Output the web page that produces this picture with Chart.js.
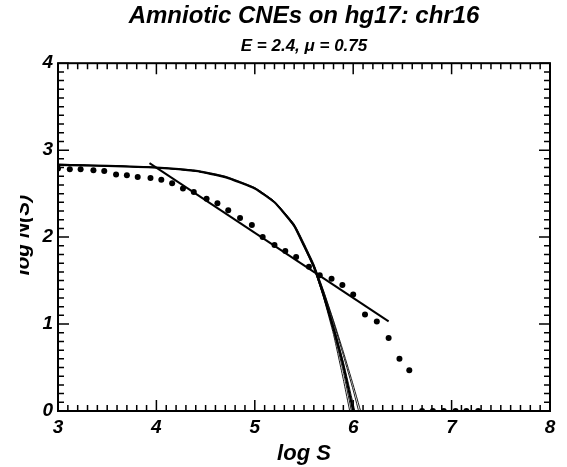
<!DOCTYPE html>
<html>
<head>
<meta charset="utf-8">
<script src="https://cdn.jsdelivr.net/npm/chart.js@4/dist/chart.umd.min.js"></script>
<style>
  html, body { margin: 0; padding: 0; background: #fff; }
  #wrap { width: 567px; height: 467px; }
</style>
</head>
<body>
<div id="wrap"><canvas id="chart"></canvas></div>
<script>
// observed counts (dots)
const obsLogS = [3.0, 3.12, 3.23, 3.36, 3.47, 3.59, 3.70, 3.81, 3.94, 4.05, 4.16, 4.27, 4.38,
  4.51, 4.62, 4.73, 4.85, 4.97, 5.08, 5.20, 5.31, 5.42, 5.55, 5.66, 5.78, 5.89, 6.00,
  6.12, 6.24, 6.36, 6.47, 6.57, 6.70, 6.81, 6.92, 7.04, 7.15, 7.27]
const obsLogN = [2.79, 2.78, 2.78, 2.77, 2.76, 2.72, 2.71, 2.69, 2.68, 2.66, 2.62, 2.56, 2.52,
  2.44, 2.39, 2.31, 2.22, 2.14, 2.00, 1.91, 1.84, 1.77, 1.66, 1.56, 1.52, 1.45, 1.34,
  1.11, 1.03, 0.84, 0.60, 0.47, 0, 0, 0, 0, 0, 0]

// power-law fit, slope -mu
const fitLogS = [3.93, 6.36]
const fitLogN = [2.85, 1.03]

// model runs
const modelLogS = [3.0, 3.5, 4.0, 4.4, 4.7, 5.0, 5.2, 5.4, 5.5, 5.6, 5.7, 5.8, 5.9, 6.0, 6.1]
const modelRun1 = [2.83, 2.82, 2.80, 2.76, 2.69, 2.56, 2.40, 2.13, 1.90, 1.66, 1.33, 0.95, 0.52, 0.00, null]
const modelRun2 = [2.83, 2.82, 2.80, 2.76, 2.69, 2.56, 2.40, 2.14, 1.91, 1.65, 1.30, 0.88, 0.36, -0.20, null]
const modelRun3 = [2.83, 2.82, 2.80, 2.76, 2.69, 2.56, 2.41, 2.14, 1.92, 1.68, 1.37, 1.02, 0.64, 0.24, -0.20]
const modelRun4 = [2.84, 2.82, 2.80, 2.76, 2.69, 2.56, 2.40, 2.13, 1.90, 1.67, 1.35, 0.98, 0.56, 0.08, -0.40]
const modelRun5 = [2.83, 2.82, 2.80, 2.76, 2.69, 2.56, 2.40, 2.12, 1.89, 1.64, 1.31, 0.92, 0.45, -0.10, null]
const modelRun6 = [2.83, 2.82, 2.80, 2.77, 2.70, 2.57, 2.41, 2.15, 1.93, 1.69, 1.38, 1.04, 0.68, 0.30, -0.10]

const xTicks = [3, 4, 5, 6, 7, 8]
const yTicks = [0, 1, 2, 3, 4]

const FONT = "'Liberation Sans', Arial, Helvetica, sans-serif"
const INK = "#000"

const toPoints = (xs, ys) => xs.map((x, i) => ({ x, y: ys[i] }))

// frame + inward minor/major ticks on all four sides
const frameTicks = {
  id: "frameTicks",
  afterDraw(chart) {
    const { ctx, chartArea: a, scales } = chart
    ctx.save()
    ctx.strokeStyle = INK
    ctx.lineWidth = 1.5
    ctx.beginPath()
    for (let i = 0; i <= 50; i++) {
      const px = scales.x.getPixelForValue(3 + i / 10)
      const len = i % 10 === 0 ? 11 : 6
      ctx.moveTo(px, a.bottom); ctx.lineTo(px, a.bottom - len)
      ctx.moveTo(px, a.top); ctx.lineTo(px, a.top + len)
    }
    for (let i = 0; i <= 40; i++) {
      const py = scales.y.getPixelForValue(i / 10)
      const len = i % 10 === 0 ? 11 : 6
      ctx.moveTo(a.left, py); ctx.lineTo(a.left + len, py)
      ctx.moveTo(a.right, py); ctx.lineTo(a.right - len, py)
    }
    ctx.stroke()
    ctx.lineWidth = 2
    ctx.strokeRect(a.left, a.top, a.right - a.left, a.bottom - a.top)
    ctx.restore()
  },
}

// y title sits partly outside the picture in the original
const yTitle = {
  id: "yTitle",
  afterDraw(chart) {
    const { ctx, chartArea: a } = chart
    ctx.save()
    ctx.beginPath()
    ctx.rect(20, 0, 30, chart.height)
    ctx.clip()
    ctx.translate(29, (a.top + a.bottom) / 2 - 2)
    ctx.rotate(-Math.PI / 2)
    ctx.font = `italic bold 21px ${FONT}`
    ctx.fillStyle = INK
    ctx.textAlign = "center"
    ctx.textBaseline = "alphabetic"
    ctx.fillText("log N(S)", 0, 0)
    ctx.restore()
  },
}

const modelRuns = [modelRun1, modelRun2, modelRun3, modelRun4, modelRun5, modelRun6]

const datasets = [
  {
    type: "scatter",
    data: toPoints(obsLogS, obsLogN),
    backgroundColor: INK,
    borderWidth: 0,
    pointRadius: 3,
  },
  {
    type: "line",
    data: toPoints(fitLogS, fitLogN),
    borderColor: INK,
    borderWidth: 2,
    pointRadius: 0,
  },
  ...modelRuns.map((run, i) => ({
    type: "line",
    data: toPoints(modelLogS, run),
    borderColor: INK,
    borderWidth: i === 0 ? 2.2 : 0.9,
    pointRadius: 0,
    tension: 0.15,
    clip: 0,
  })),
]

new Chart(document.getElementById("chart"), {
  data: { datasets },
  options: {
    animation: false,
    responsive: true,
    maintainAspectRatio: false,
    layout: { padding: { left: 0, right: 17, top: 0, bottom: 0 } },
    plugins: {
      legend: { display: false },
      tooltip: { enabled: false },
      // fullSize false: titles centre over the plot area, not the canvas
      title: {
        display: true,
        fullSize: false,
        text: "Amniotic CNEs on hg17: chr16",
        color: INK,
        font: { family: FONT, size: 24, weight: "bold", style: "italic" },
        padding: { top: 2, bottom: 3 },
      },
      subtitle: {
        display: true,
        fullSize: false,
        text: "E = 2.4, \u03bc = 0.75",
        color: INK,
        font: { family: FONT, size: 17, weight: "bold", style: "italic" },
        padding: { top: 2, bottom: 7 },
      },
    },
    scales: {
      x: {
        type: "linear",
        min: 3,
        max: 8,
        afterBuildTicks: (scale) => { scale.ticks = xTicks.map((v) => ({ value: v })) },
        afterFit: (scale) => { scale.height = 56 },
        grid: { display: false, drawTicks: false },
        border: { display: false },
        ticks: {
          color: INK,
          padding: 5,
          font: { family: FONT, size: 19, weight: "bold", style: "italic" },
        },
        title: {
          display: true,
          text: "log S",
          color: INK,
          font: { family: FONT, size: 22, weight: "bold", style: "italic" },
          padding: { top: 0, bottom: 0 },
        },
      },
      y: {
        type: "linear",
        min: 0,
        max: 4,
        afterBuildTicks: (scale) => { scale.ticks = yTicks.map((v) => ({ value: v })) },
        afterFit: (scale) => { scale.width = 58 },
        grid: { display: false, drawTicks: false },
        border: { display: false },
        ticks: {
          color: INK,
          padding: 5,
          font: { family: FONT, size: 19, weight: "bold", style: "italic" },
        },
      },
    },
  },
  plugins: [frameTicks, yTitle],
})
</script>
</body>
</html>
